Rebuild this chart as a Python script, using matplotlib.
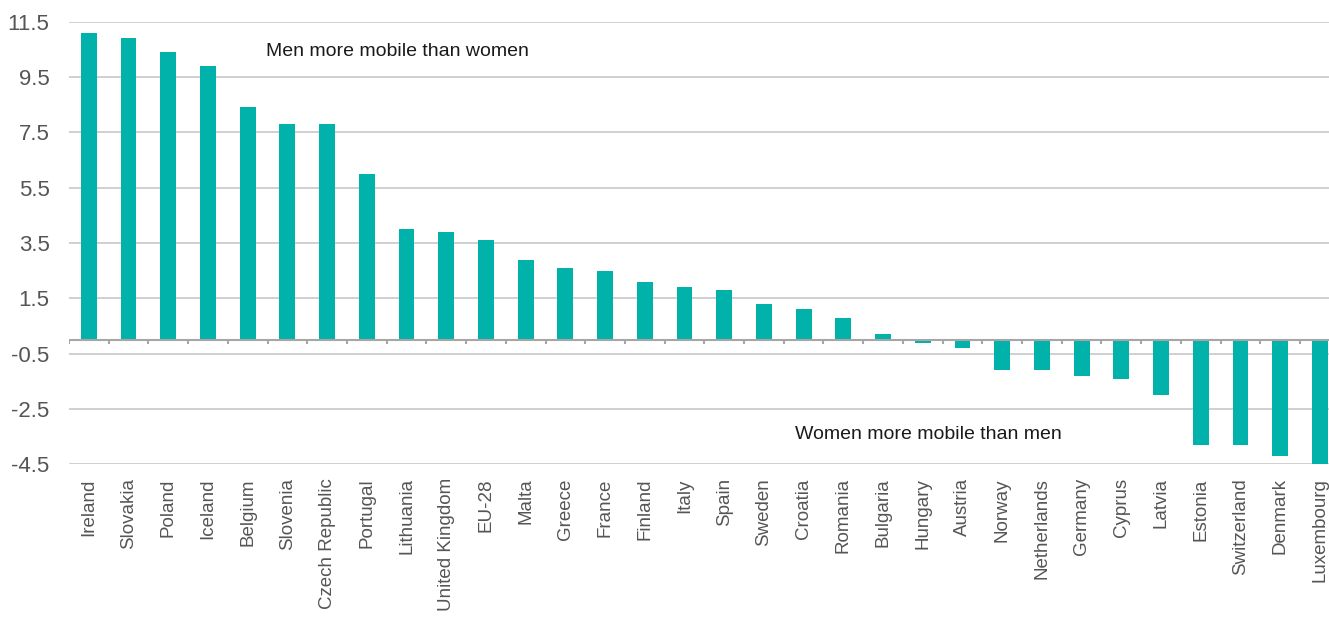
import numpy as np
import matplotlib.pyplot as plt

countries = ["Ireland", "Slovakia", "Poland", "Iceland", "Belgium", "Slovenia",
             "Czech Republic", "Portugal", "Lithuania", "United Kingdom", "EU-28",
             "Malta", "Greece", "France", "Finland", "Italy", "Spain", "Sweden",
             "Croatia", "Romania", "Bulgaria", "Hungary", "Austria", "Norway",
             "Netherlands", "Germany", "Cyprus", "Latvia", "Estonia", "Switzerland",
             "Denmark", "Luxembourg"]
gap = [11.1, 10.9, 10.4, 9.9, 8.4, 7.8, 7.8, 6.0, 4.0, 3.9, 3.6, 2.9, 2.6, 2.5,
       2.1, 1.9, 1.8, 1.3, 1.1, 0.8, 0.2, -0.1, -0.3, -1.1, -1.1, -1.3, -1.4,
       -2.0, -3.8, -3.8, -4.2, -4.5]
yticks = [11.5, 9.5, 7.5, 5.5, 3.5, 1.5, -0.5, -2.5, -4.5]

plt.rcParams["font.family"] = ["Liberation Sans", "DejaVu Sans"]

fig = plt.figure(figsize=(13.29, 6.18), dpi=100)
ax = fig.add_axes([0.0519, 0.2487, 1.0 - 0.0519, 0.9649 - 0.2487])

x = np.arange(len(countries))
ax.bar(x, gap, width=0.4, color="#00b2a9", zorder=3)

# horizontal grid
for t in yticks:
    ax.axhline(t, color="#c8c8c8", linewidth=1.2, zorder=1)
# zero baseline with small ticks between categories
ax.axhline(0, color="#a6a6a6", linewidth=1.5, zorder=4)
ax.vlines(x - 0.5, -0.15, 0, color="#a6a6a6", linewidth=1.5, zorder=4)

ax.set_yticks(yticks)
ax.set_yticklabels([f"{t:.1f}" for t in yticks])
ax.set_xticks(x)
ax.set_xticklabels(countries, rotation=90)
# the plot runs past the right edge of the figure, cutting the last bar
ax.set_xlim(-0.5, 31.23)
ax.set_ylim(-4.5, 11.5)
ax.tick_params(axis="y", length=0, pad=14, labelsize=16, labelcolor="#555555")
ax.tick_params(axis="x", length=0, pad=10, labelsize=13.5, labelcolor="#555555")
for s in ax.spines.values():
    s.set_visible(False)

ax.text(4.46, 10.44, "Men more mobile than women", fontsize=14,
        color="#1a1a1a", va="center", ha="left")
ax.text(17.79, -3.41, "Women more mobile than men", fontsize=14,
        color="#1a1a1a", va="center", ha="left")

fig.savefig("out.png", dpi=100)
